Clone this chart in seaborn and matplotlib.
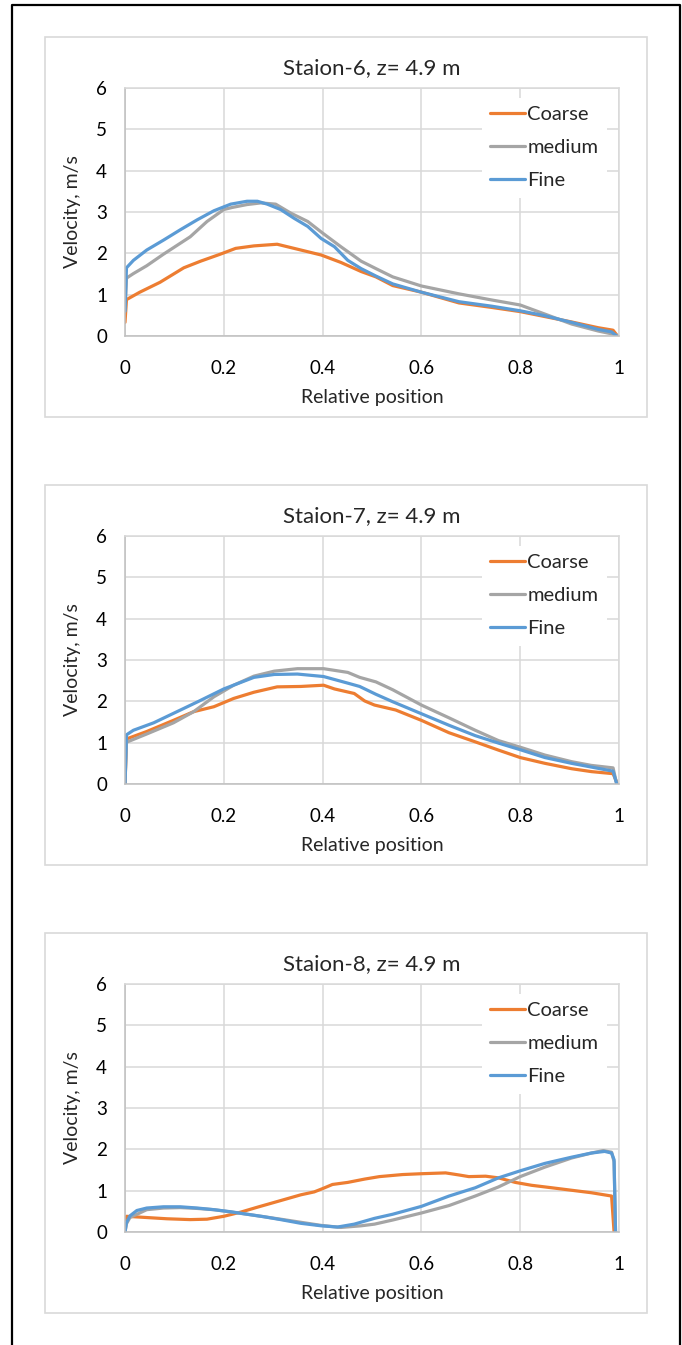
import numpy as np
import pandas as pd
import matplotlib
matplotlib.use("Agg")
import matplotlib.pyplot as plt
import seaborn as sns
from matplotlib.lines import Line2D
from matplotlib.patches import Rectangle
from matplotlib.ticker import MultipleLocator

# ---- Station 6 ----
s6_coarse_x = [0, 0.003, 0.03, 0.071, 0.119, 0.153, 0.193, 0.224, 0.261, 0.308, 0.356, 0.397, 0.437,
               0.478, 0.508, 0.542, 0.60, 0.676, 0.743, 0.80, 0.85, 0.904, 0.958, 0.988, 0.997]
s6_coarse_y = [0.33, 0.88, 1.06, 1.30, 1.65, 1.81, 1.98, 2.12, 2.18, 2.22, 2.08, 1.96, 1.78,
               1.56, 1.43, 1.22, 1.06, 0.80, 0.69, 0.59, 0.47, 0.34, 0.20, 0.14, 0.0]
s6_medium_x = [0, 0.003, 0.017, 0.044, 0.078, 0.132, 0.166, 0.2, 0.217, 0.247, 0.275, 0.305, 0.336,
               0.37, 0.40, 0.437, 0.478, 0.508, 0.542, 0.60, 0.676, 0.743, 0.80, 0.85, 0.904, 0.958,
               0.99, 1.0]
s6_medium_y = [0.6, 1.40, 1.51, 1.70, 1.98, 2.40, 2.77, 3.06, 3.11, 3.18, 3.22, 3.19, 2.97,
               2.77, 2.49, 2.16, 1.81, 1.63, 1.43, 1.21, 1.02, 0.87, 0.75, 0.53, 0.29, 0.12,
               0.04, 0.0]
s6_fine_x = [0, 0.003, 0.017, 0.044, 0.078, 0.112, 0.146, 0.18, 0.214, 0.247, 0.268, 0.288, 0.315,
             0.342, 0.37, 0.397, 0.424, 0.451, 0.478, 0.508, 0.542, 0.60, 0.676, 0.743, 0.80, 0.85,
             0.904, 0.958, 0.985, 0.995]
s6_fine_y = [0.6, 1.65, 1.83, 2.08, 2.32, 2.57, 2.81, 3.03, 3.19, 3.26, 3.26, 3.19, 3.06,
             2.85, 2.65, 2.36, 2.16, 1.83, 1.63, 1.45, 1.26, 1.06, 0.83, 0.72, 0.61, 0.49,
             0.33, 0.16, 0.10, 0.0]

# ---- Station 7 ----
s7_coarse_x = [0, 0.003, 0.044, 0.098, 0.139, 0.18, 0.22, 0.261, 0.308, 0.356, 0.402, 0.424, 0.464,
               0.485, 0.505, 0.548, 0.60, 0.656, 0.709, 0.756, 0.80, 0.85, 0.904, 0.944, 0.988, 0.997]
s7_coarse_y = [0, 1.09, 1.27, 1.54, 1.75, 1.87, 2.07, 2.22, 2.35, 2.36, 2.39, 2.30, 2.19,
               2.01, 1.91, 1.79, 1.54, 1.24, 1.02, 0.82, 0.64, 0.50, 0.37, 0.30, 0.25, 0.0]
s7_medium_x = [0, 0.003, 0.044, 0.098, 0.139, 0.18, 0.22, 0.261, 0.302, 0.349, 0.402, 0.451, 0.475,
               0.508, 0.542, 0.60, 0.656, 0.709, 0.756, 0.80, 0.85, 0.904, 0.944, 0.988, 0.995]
s7_medium_y = [0, 1.01, 1.21, 1.48, 1.75, 2.11, 2.39, 2.61, 2.73, 2.79, 2.79, 2.70, 2.58,
               2.47, 2.28, 1.91, 1.60, 1.30, 1.05, 0.89, 0.70, 0.54, 0.45, 0.39, 0.02]
s7_fine_x = [0, 0.003, 0.017, 0.058, 0.1, 0.149, 0.2, 0.261, 0.302, 0.349, 0.402, 0.451, 0.475,
             0.508, 0.542, 0.60, 0.656, 0.709, 0.756, 0.80, 0.85, 0.904, 0.944, 0.988, 0.995]
s7_fine_y = [0, 1.19, 1.30, 1.48, 1.72, 2.0, 2.30, 2.58, 2.65, 2.66, 2.60, 2.44, 2.36,
             2.17, 1.99, 1.70, 1.42, 1.17, 0.99, 0.83, 0.64, 0.50, 0.41, 0.31, 0.02]

# ---- Station 8 ----
s8_coarse_x = [0, 0.003, 0.044, 0.085, 0.132, 0.166, 0.2, 0.234, 0.268, 0.315, 0.356, 0.383, 0.40,
               0.42, 0.451, 0.485, 0.515, 0.562, 0.60, 0.649, 0.676, 0.696, 0.73, 0.756, 0.79,
               0.823, 0.864, 0.904, 0.944, 0.985, 0.99]
s8_coarse_y = [0.3, 0.38, 0.35, 0.32, 0.30, 0.31, 0.38, 0.48, 0.60, 0.76, 0.90, 0.97, 1.05,
               1.15, 1.20, 1.28, 1.34, 1.39, 1.41, 1.43, 1.38, 1.34, 1.35, 1.31, 1.20,
               1.13, 1.07, 1.01, 0.95, 0.87, 0.0]
s8_medium_x = [0, 0.003, 0.01, 0.044, 0.078, 0.112, 0.146, 0.18, 0.247, 0.315, 0.397, 0.437, 0.478,
               0.505, 0.542, 0.60, 0.656, 0.709, 0.756, 0.80, 0.85, 0.904, 0.944, 0.968, 0.985,
               0.99, 0.993]
s8_medium_y = [0, 0.2, 0.35, 0.54, 0.58, 0.59, 0.57, 0.54, 0.43, 0.31, 0.16, 0.11, 0.15,
               0.19, 0.29, 0.46, 0.64, 0.87, 1.09, 1.34, 1.57, 1.79, 1.91, 1.97, 1.93,
               1.70, 0.0]
s8_fine_x = [0, 0.003, 0.01, 0.024, 0.044, 0.078, 0.112, 0.146, 0.18, 0.214, 0.247, 0.281, 0.315,
             0.356, 0.397, 0.43, 0.464, 0.505, 0.542, 0.60, 0.656, 0.709, 0.756, 0.80, 0.85,
             0.904, 0.944, 0.971, 0.985, 0.99, 0.993]
s8_fine_y = [0, 0.23, 0.39, 0.52, 0.58, 0.61, 0.61, 0.58, 0.54, 0.49, 0.43, 0.37, 0.30,
             0.21, 0.15, 0.12, 0.19, 0.33, 0.43, 0.62, 0.87, 1.07, 1.31, 1.48, 1.66,
             1.81, 1.91, 1.95, 1.91, 1.75, 0.0]

titles = ["Staion-6, z= 4.9 m", "Staion-7, z= 4.9 m", "Staion-8, z= 4.9 m"]
series_names = ["Coarse", "medium", "Fine"]
colors = ["#ED7D31", "#A5A5A5", "#5B9BD5"]
x_ticks = [0, 0.2, 0.4, 0.6, 0.8, 1]
x_ticklabels = ["0", "0.2", "0.4", "0.6", "0.8", "1"]
y_ticks = [0, 1, 2, 3, 4, 5, 6]

stations = [
    [(s6_coarse_x, s6_coarse_y), (s6_medium_x, s6_medium_y), (s6_fine_x, s6_fine_y)],
    [(s7_coarse_x, s7_coarse_y), (s7_medium_x, s7_medium_y), (s7_fine_x, s7_fine_y)],
    [(s8_coarse_x, s8_coarse_y), (s8_medium_x, s8_medium_y), (s8_fine_x, s8_fine_y)],
]

sns.set_style("white")
plt.rcParams['font.family'] = ['Lato', 'DejaVu Sans']

W, H = 682, 1345
fig = plt.figure(figsize=(W / 100, H / 100), dpi=100)

# outer black frame (no bottom edge visible)
fig.add_artist(Line2D([12 / W, 12 / W, 680 / W, 680 / W], [0, 1 - 5 / H, 1 - 5 / H, 0],
                      transform=fig.transFigure, color="black", lw=1.6))

grid_c = "#D9D9D9"
step = 448
for i, (title, data) in enumerate(zip(titles, stations)):
    off = step * i
    # panel box
    fig.add_artist(Rectangle((45 / W, 1 - (417 + off) / H), 602 / W, 380 / H,
                             transform=fig.transFigure, fill=False, edgecolor=grid_c, lw=1.2))
    ax = fig.add_axes([125 / W, 1 - (336 + off) / H, 494 / W, 248 / H])

    for name, c, (xs, ys) in zip(series_names, colors, data):
        df = pd.DataFrame({"x": xs, "y": ys})
        sns.lineplot(data=df, x="x", y="y", ax=ax, color=c, lw=2.3, label=name,
                     estimator=None, sort=False)

    ax.set_xlim(0, 1)
    ax.set_ylim(0, 6)
    ax.set_xticks(x_ticks)
    ax.set_xticklabels(x_ticklabels)
    ax.set_yticks(y_ticks)
    ax.yaxis.set_minor_locator(MultipleLocator(0.5))
    ax.grid(True, which="major", color=grid_c, lw=1.1)
    ax.set_axisbelow(True)
    for sp in ax.spines.values():
        sp.set_color(grid_c)
        sp.set_linewidth(1.1)
    ax.spines["left"].set_color("#BFBFBF")
    ax.spines["bottom"].set_color("#BFBFBF")
    ax.tick_params(axis="both", which="major", length=0, labelsize=13.5, colors="#000000")
    ax.tick_params(axis="x", which="major", pad=17)
    ax.tick_params(axis="y", which="major", pad=13)
    ax.tick_params(axis="y", which="minor", direction="in", length=4, color="#BFBFBF", width=1)
    ax.set_title(title, fontsize=16, pad=10)
    ax.set_xlabel("Relative position", fontsize=14, labelpad=9)
    ax.set_ylabel("Velocity, m/s", fontsize=14, labelpad=11)

    leg = ax.legend(loc="upper left", bbox_to_anchor=(0.723, 0.960), borderaxespad=0,
                    frameon=True, fancybox=False, framealpha=1, facecolor="white",
                    edgecolor="none", fontsize=14.5, handlelength=1.75, handletextpad=0.1,
                    labelspacing=0.8, borderpad=0.4)
    for ln in leg.get_lines():
        ln.set_linewidth(2.3)

fig.savefig("out.png", dpi=100, facecolor="white")
